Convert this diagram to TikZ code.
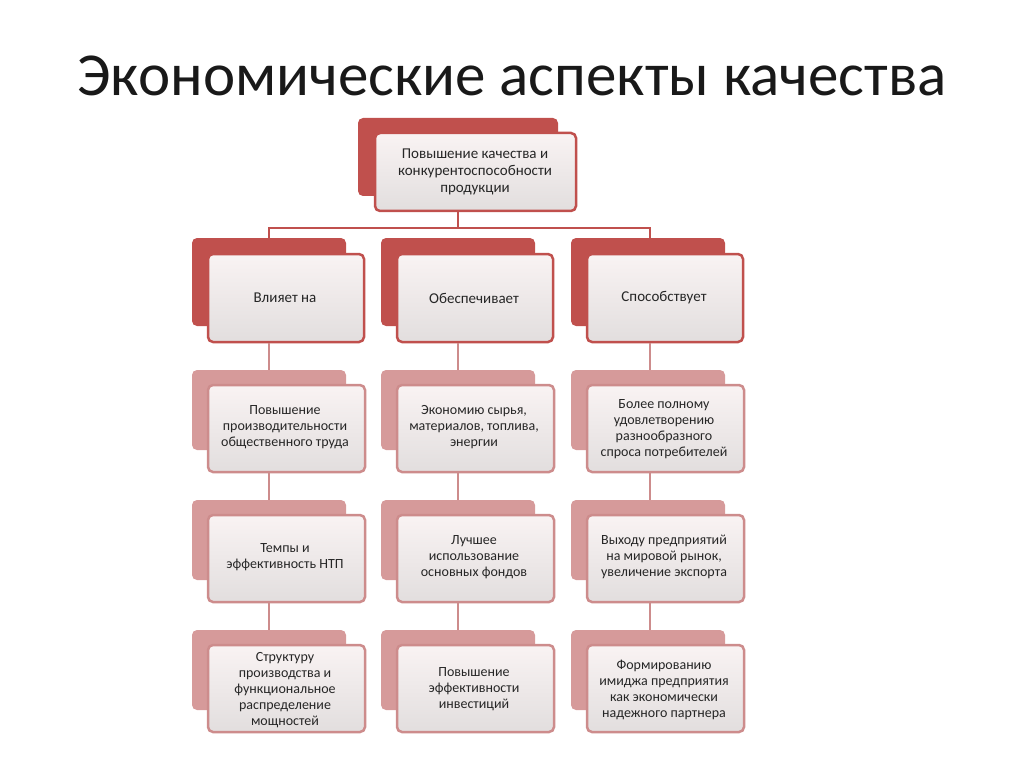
\documentclass[tikz,border=0pt]{standalone}
\usepackage{fontspec}
\setmainfont{Carlito}
\begin{document}
\begin{tikzpicture}[x=1pt,y=-1pt,
  darkc/.style={fill={rgb,255:red,192;green,80;blue,77}, rounded corners=5pt},
  lightc/.style={fill={rgb,255:red,214;green,154;blue,154}, rounded corners=5pt},
  front/.style={draw=#1, line width=2.5pt, rounded corners=5pt, top color={rgb,255:red,249;green,243;blue,243}, bottom color={rgb,255:red,226;green,222;blue,222}},
  txt/.style={align=center, font=\fontsize{14}{16}\selectfont, text=black!85},
  ln/.style={draw=#1, line width=2.8pt}]
\definecolor{dred}{RGB}{192,80,77}
\definecolor{lred}{RGB}{205,140,140}
\useasboundingbox (0,0) rectangle (1024,767);
\node[font=\fontsize{61}{64}\selectfont, text=black!90] (title) at (512,76) {Экономические аспекты качества};
% top
\fill[darkc] (358,118) rectangle (558,196);
\draw[front=dred] (375,133) rectangle (576,211);
\node[txt, font=\fontsize{15}{17}\selectfont] (top) at (475,172) {Повышение качества и\\конкурентоспособности\\продукции};
\coordinate (tb) at (458,212);
\coordinate (hj) at (458,228);
\draw[ln=dred] (tb) -- (hj);
\draw[ln=dred] (269,238) -- (269,228) -- (650,228) -- (650,238);
% level 1
\foreach \x/\n/\t in {192/a/Влияет на,381/b/Обеспечивает,571/c/Способствует}{
  \fill[darkc] (\x,238) rectangle (\x+154,326);
  \draw[front=dred] (\x+16,254) rectangle (\x+172,342);
  \node[txt, font=\fontsize{15}{17}\selectfont] (\n1) at (\x+93,298) {\t};
}
% rows
\foreach \y in {370,500,630}{
  \foreach \x in {192,381,571}{
    \fill[lightc] (\x,\y) rectangle (\x+154,\y+80);
    \draw[front=lred] (\x+16,\y+15) rectangle (\x+173,\y+102);
  }
}
\foreach \cx in {269,458,650}{
  \draw[ln=lred] (\cx,343) -- (\cx,370);
  \draw[ln=lred] (\cx,473) -- (\cx,500);
  \draw[ln=lred] (\cx,603) -- (\cx,630);
}
\node[txt] (a2) at (285,427) {Повышение\\производительности\\общественного труда};
\node[txt] (b2) at (474,427) {Экономию сырья,\\материалов, топлива,\\энергии};
\node[txt] (c2) at (664,429) {Более полному\\удовлетворению\\разнообразного\\спроса потребителей};
\node[txt] (a3) at (285,557) {Темпы и\\эффективность НТП};
\node[txt] (b3) at (474,557) {Лучшее\\использование\\основных фондов};
\node[txt] (c3) at (664,557) {Выходу предприятий\\на мировой рынок,\\увеличение экспорта};
\node[txt] (a4) at (285,690) {Структуру\\производства и\\функциональное\\распределение\\мощностей};
\node[txt] (b4) at (474,689) {Повышение\\эффективности\\инвестиций};
\node[txt] (c4) at (664,690) {Формированию\\имиджа предприятия\\как экономически\\надежного партнера};
\end{tikzpicture}
\end{document}
